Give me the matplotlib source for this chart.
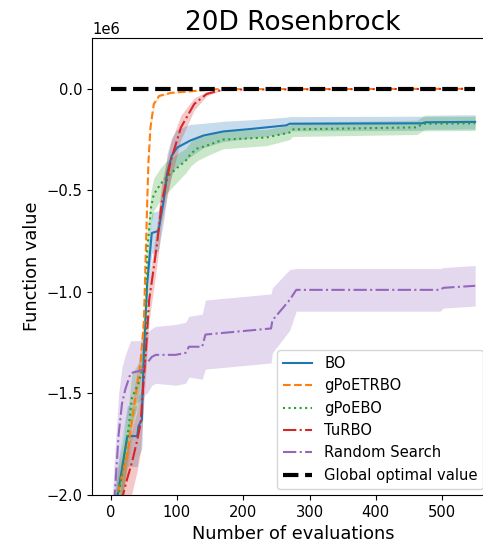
import numpy as np
import matplotlib
matplotlib.use("Agg")
import matplotlib.pyplot as plt

# values in units of 1e6 (best function value so far, mean and spread)
bo_x = [1, 8, 25, 40, 42, 47, 50, 55, 60, 62, 72, 80, 85, 92, 100, 120, 140, 170, 214, 265, 270, 470, 475, 550]
bo_y = [-2.3, -2.05, -1.71, -1.71, -1.66, -1.63, -1.29, -0.96, -0.78, -0.71, -0.70, -0.55, -0.42, -0.33,
        -0.29, -0.255, -0.23, -0.21, -0.197, -0.18, -0.172, -0.17, -0.165, -0.163]
bo_sd = [0.15, 0.15, 0.15, 0.15, 0.15, 0.14, 0.12, 0.1, 0.1, 0.1, 0.1, 0.1, 0.1, 0.09,
         0.09, 0.08, 0.06, 0.05, 0.045, 0.04, 0.035, 0.035, 0.035, 0.035]

et_x = [1, 10, 25, 38, 45, 50, 55, 57, 60, 65, 73, 91, 121, 160, 550]
et_y = [-2.3, -2.0, -1.8, -1.5, -1.35, -1.15, -0.565, -0.355, -0.19, -0.075, -0.035, -0.02, -0.012, -0.002, 0.0]
et_sd = [0.1, 0.1, 0.1, 0.08, 0.08, 0.06, 0.04, 0.03, 0.02, 0.01, 0.005, 0.003, 0.002, 0.0, 0.0]

gb_x = [1, 10, 27, 32, 42, 50, 53, 54, 55, 61, 65, 75, 83, 100, 113, 121, 130, 145, 170, 235, 270, 274, 462, 471, 550]
gb_y = [-2.3, -2.05, -1.67, -1.52, -1.45, -1.35, -1.27, -1.0, -0.80, -0.58, -0.52, -0.47, -0.44, -0.39,
        -0.355, -0.32, -0.295, -0.28, -0.25, -0.24, -0.215, -0.20, -0.19, -0.172, -0.17]
gb_sd = [0.15, 0.15, 0.12, 0.12, 0.1, 0.1, 0.1, 0.1, 0.1, 0.08, 0.08, 0.08, 0.08, 0.07,
         0.06, 0.06, 0.06, 0.05, 0.045, 0.04, 0.035, 0.035, 0.035, 0.035, 0.035]

tu_x = [1, 12, 17, 24, 32, 40, 45, 50, 53, 58, 65, 70, 77, 91, 106, 126, 145, 170, 550]
tu_y = [-2.4, -2.3, -2.02, -1.93, -1.84, -1.73, -1.65, -1.42, -1.30, -1.04, -0.88, -0.76, -0.56,
        -0.35, -0.19, -0.075, -0.025, -0.004, 0.0]
tu_sd = [0.15, 0.15, 0.15, 0.15, 0.15, 0.15, 0.14, 0.12, 0.1, 0.1, 0.1, 0.1, 0.1,
         0.09, 0.06, 0.03, 0.01, 0.0, 0.0]

rs_x = [1, 5, 12, 17, 22, 30, 42, 47, 53, 55, 62, 68, 98, 113, 118, 138, 143, 242, 244, 270, 280, 497, 502, 550]
rs_y = [-2.3, -2.05, -1.7, -1.55, -1.48, -1.40, -1.39, -1.385, -1.35, -1.35, -1.32, -1.31, -1.31, -1.30,
        -1.27, -1.27, -1.21, -1.18, -1.14, -1.04, -0.99, -0.99, -0.98, -0.97]
rs_sd = [0.2, 0.2, 0.2, 0.18, 0.17, 0.16, 0.15, 0.15, 0.15, 0.15, 0.14, 0.14, 0.15, 0.15,
         0.15, 0.16, 0.17, 0.17, 0.16, 0.15, 0.105, 0.105, 0.1, 0.1]

opt_x = [0, 550]
opt_y = [0.0, 0.0]

series = [
    ("BO", bo_x, bo_y, bo_sd, "C0", "-"),
    ("gPoETRBO", et_x, et_y, et_sd, "C1", "--"),
    ("gPoEBO", gb_x, gb_y, gb_sd, "C2", ":"),
    ("TuRBO", tu_x, tu_y, tu_sd, "C3", "-."),
    ("Random Search", rs_x, rs_y, rs_sd, "C4", "-."),
]

fig = plt.figure(figsize=(4.83, 5.46), dpi=100)
# the original picture is cropped on the right, so the axes run past the figure edge
ax = fig.add_axes([0.1915, 0.0934, 0.830, 0.837])
ax.spines["right"].set_visible(False)

for name, x, y, sd, color, ls in series:
    x = np.array(x)
    y = np.array(y) * 1e6
    sd = np.array(sd) * 1e6
    ax.plot(x, y, color=color, linestyle=ls, label=name)
    ax.fill_between(x, y - sd, y + sd, color=color, alpha=0.25, linewidth=0)

ax.plot(opt_x, np.array(opt_y) * 1e6, "k--", linewidth=3, label="Global optimal value")

ax.set_xlim(-27.5, 577.5)
ax.set_ylim(-2.0e6, 0.25e6)
ax.set_yticks(np.array([0.0, -0.5, -1.0, -1.5, -2.0]) * 1e6)
ax.tick_params(labelsize=10.6)
ax.yaxis.get_offset_text().set_fontsize(10.6)
ax.set_xlabel("Number of evaluations", fontsize=12.8)
ax.set_ylabel("Function value", fontsize=12.8)
ax.set_title("20D Rosenbrock", fontsize=19)
leg = ax.legend(loc="upper left", bbox_to_anchor=(0.46, 0.317), borderaxespad=0, fontsize=10.6)

fig.savefig("out.png", dpi=100)
